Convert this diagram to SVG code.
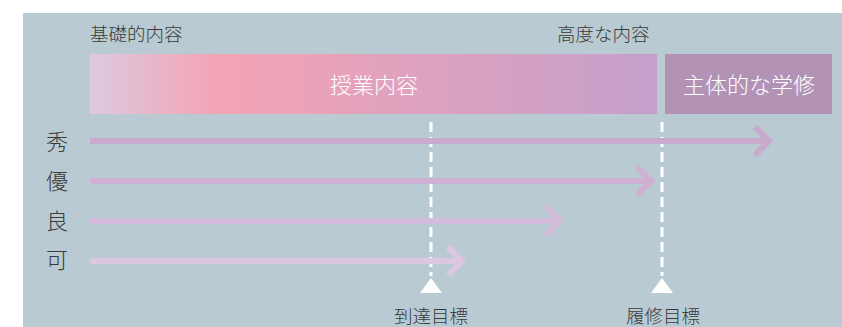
<svg xmlns="http://www.w3.org/2000/svg" width="842" height="327" viewBox="0 0 842 327">
<defs>
<linearGradient id="bar" x1="90" y1="0" x2="657" y2="0" gradientUnits="userSpaceOnUse">
<stop offset="0" stop-color="#ddc9de"/>
<stop offset="0.23" stop-color="#f4a3b4"/>
<stop offset="1" stop-color="#c4a0cb"/>
</linearGradient>
<style>
text{font-family:"Noto Sans CJK JP","Noto Sans",sans-serif;font-weight:300}
.dark{fill:#3a3a3a}
.wt{fill:#ffffff}
.dash{stroke:#ffffff;stroke-width:3;stroke-dasharray:10 5;fill:none}
.arr{fill:none;stroke-width:6}
</style>
</defs>
<rect x="23" y="13" width="819" height="314" fill="#b9cad2"/>
<g id="labels-top">
<text class="dark" x="90" y="41" font-size="18.5">基礎的内容</text>
<text class="dark" x="557" y="41" font-size="18.5">高度な内容</text>
</g>
<g id="node-jugyo">
<rect x="90" y="54" width="567" height="60" fill="url(#bar)"/>
<text class="wt" x="374" y="93" font-size="22" text-anchor="middle">授業内容</text>
</g>
<g id="node-shutai">
<rect x="665" y="54" width="167" height="60" fill="#b293b6"/>
<text class="wt" x="749" y="93" font-size="22" text-anchor="middle">主体的な学修</text>
</g>
<g id="grades">
<text class="dark" x="57" y="150" font-size="22" text-anchor="middle">秀</text>
<text class="dark" x="57" y="189" font-size="22" text-anchor="middle">優</text>
<text class="dark" x="57" y="229" font-size="22" text-anchor="middle">良</text>
<text class="dark" x="57" y="268" font-size="22" text-anchor="middle">可</text>
</g>
<g id="connectors">
<path class="dash" d="M431 122V276"/>
<path class="dash" d="M662 122V276"/>
<path class="arr" stroke="#c9a9cd" d="M90 141H768M755 127L769 141L755 155"/>
<path class="arr" stroke="#cfb0d4" d="M90 181H650M637 167L651 181L637 195"/>
<path class="arr" stroke="#d6bcdc" d="M90 221H559M546 207L560 221L546 235"/>
<path class="arr" stroke="#dcc7e0" d="M90 261H461M448 247L462 261L448 275"/>
</g>
<g id="targets">
<polygon points="431,278 420,293 442,293" fill="#ffffff"/>
<polygon points="662,278 651,293 673,293" fill="#ffffff"/>
<text class="dark" x="431" y="323" font-size="18.5" text-anchor="middle">到達目標</text>
<text class="dark" x="663" y="323" font-size="18.5" text-anchor="middle">履修目標</text>
</g>
</svg>
